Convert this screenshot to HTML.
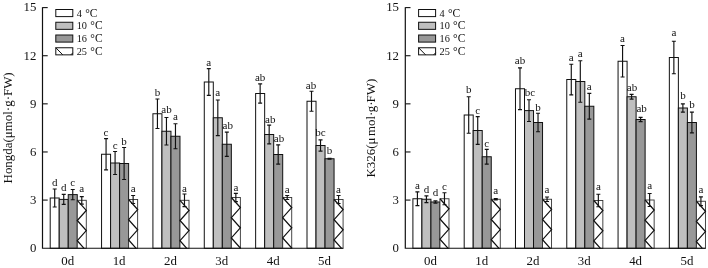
<!DOCTYPE html>
<html><head><meta charset="utf-8"><title>chart</title>
<style>
html,body{margin:0;padding:0;background:#fff;}
svg{display:block;filter:grayscale(1);}
text{font-family:"Liberation Serif",serif;fill:#111;}
</style></head><body>
<svg width="708" height="268" viewBox="0 0 708 268">
<rect width="708" height="268" fill="#fff"/>
<rect x="50.20" y="198.00" width="9.02" height="50.30" fill="#fff" stroke="#111" stroke-width="1"/>
<rect x="59.22" y="199.40" width="9.02" height="48.90" fill="#bfbfbf" stroke="#111" stroke-width="1"/>
<rect x="68.24" y="194.60" width="9.02" height="53.70" fill="#989898" stroke="#111" stroke-width="1"/>
<rect x="77.26" y="200.30" width="9.02" height="48.00" fill="#fff" stroke="#333" stroke-width="0.9"/>
<polyline fill="none" stroke="#111" stroke-width="1.25" points="77.26,200.30 86.28,210.40 77.26,220.50 86.28,230.60 77.26,240.70 84.05,248.30"/>
<rect x="101.56" y="154.25" width="9.02" height="94.05" fill="#fff" stroke="#111" stroke-width="1"/>
<rect x="110.58" y="163.00" width="9.02" height="85.30" fill="#bfbfbf" stroke="#111" stroke-width="1"/>
<rect x="119.60" y="163.50" width="9.02" height="84.80" fill="#989898" stroke="#111" stroke-width="1"/>
<rect x="128.62" y="199.50" width="9.02" height="48.80" fill="#fff" stroke="#333" stroke-width="0.9"/>
<polyline fill="none" stroke="#111" stroke-width="1.25" points="128.62,199.50 137.64,209.60 128.62,219.70 137.64,229.80 128.62,239.90 136.12,248.30"/>
<rect x="152.92" y="113.75" width="9.02" height="134.55" fill="#fff" stroke="#111" stroke-width="1"/>
<rect x="161.94" y="131.25" width="9.02" height="117.05" fill="#bfbfbf" stroke="#111" stroke-width="1"/>
<rect x="170.96" y="136.25" width="9.02" height="112.05" fill="#989898" stroke="#111" stroke-width="1"/>
<rect x="179.98" y="200.30" width="9.02" height="48.00" fill="#fff" stroke="#333" stroke-width="0.9"/>
<polyline fill="none" stroke="#111" stroke-width="1.25" points="179.98,200.30 189.00,210.40 179.98,220.50 189.00,230.60 179.98,240.70 186.77,248.30"/>
<rect x="204.28" y="82.00" width="9.02" height="166.30" fill="#fff" stroke="#111" stroke-width="1"/>
<rect x="213.30" y="117.75" width="9.02" height="130.55" fill="#bfbfbf" stroke="#111" stroke-width="1"/>
<rect x="222.32" y="144.25" width="9.02" height="104.05" fill="#989898" stroke="#111" stroke-width="1"/>
<rect x="231.34" y="197.50" width="9.02" height="50.80" fill="#fff" stroke="#333" stroke-width="0.9"/>
<polyline fill="none" stroke="#111" stroke-width="1.25" points="231.34,197.50 240.36,207.60 231.34,217.70 240.36,227.80 231.34,237.90 240.36,248.00 240.09,248.30"/>
<rect x="255.64" y="93.50" width="9.02" height="154.80" fill="#fff" stroke="#111" stroke-width="1"/>
<rect x="264.66" y="134.50" width="9.02" height="113.80" fill="#bfbfbf" stroke="#111" stroke-width="1"/>
<rect x="273.68" y="154.50" width="9.02" height="93.80" fill="#989898" stroke="#111" stroke-width="1"/>
<rect x="282.70" y="197.50" width="9.02" height="50.80" fill="#fff" stroke="#333" stroke-width="0.9"/>
<polyline fill="none" stroke="#111" stroke-width="1.25" points="282.70,197.50 291.72,207.60 282.70,217.70 291.72,227.80 282.70,237.90 291.72,248.00 291.45,248.30"/>
<rect x="307.00" y="101.25" width="9.02" height="147.05" fill="#fff" stroke="#111" stroke-width="1"/>
<rect x="316.02" y="145.50" width="9.02" height="102.80" fill="#bfbfbf" stroke="#111" stroke-width="1"/>
<rect x="325.04" y="158.75" width="9.02" height="89.55" fill="#989898" stroke="#111" stroke-width="1"/>
<rect x="334.06" y="199.50" width="9.02" height="48.80" fill="#fff" stroke="#333" stroke-width="0.9"/>
<polyline fill="none" stroke="#111" stroke-width="1.25" points="334.06,199.50 343.08,209.60 334.06,219.70 343.08,229.80 334.06,239.90 341.56,248.30"/>
<path d="M54.71 189.00V207.00M52.71 189.00H56.71M52.71 207.00H56.71" stroke="#111" stroke-width="1.15" fill="none"/>
<text x="54.71" y="185.75" text-anchor="middle" font-size="11">d</text>
<path d="M63.73 194.40V204.40M61.73 194.40H65.73M61.73 204.40H65.73" stroke="#111" stroke-width="1.15" fill="none"/>
<text x="63.73" y="191.25" text-anchor="middle" font-size="11">d</text>
<path d="M72.75 189.50V199.70M70.75 189.50H74.75M70.75 199.70H74.75" stroke="#111" stroke-width="1.15" fill="none"/>
<text x="72.75" y="185.75" text-anchor="middle" font-size="11">c</text>
<path d="M81.77 196.55V204.05M79.77 196.55H83.77M79.77 204.05H83.77" stroke="#111" stroke-width="1.15" fill="none"/>
<text x="81.77" y="192.00" text-anchor="middle" font-size="11">a</text>
<path d="M106.07 138.65V169.85M104.07 138.65H108.07M104.07 169.85H108.07" stroke="#111" stroke-width="1.15" fill="none"/>
<text x="106.07" y="136.25" text-anchor="middle" font-size="11">c</text>
<path d="M115.09 151.50V174.50M113.09 151.50H117.09M113.09 174.50H117.09" stroke="#111" stroke-width="1.15" fill="none"/>
<text x="115.09" y="148.75" text-anchor="middle" font-size="11">c</text>
<path d="M124.11 147.50V179.50M122.11 147.50H126.11M122.11 179.50H126.11" stroke="#111" stroke-width="1.15" fill="none"/>
<text x="124.11" y="145.00" text-anchor="middle" font-size="11">b</text>
<path d="M133.13 195.50V203.50M131.13 195.50H135.13M131.13 203.50H135.13" stroke="#111" stroke-width="1.15" fill="none"/>
<text x="133.13" y="192.30" text-anchor="middle" font-size="11">a</text>
<path d="M157.43 99.00V128.50M155.43 99.00H159.43M155.43 128.50H159.43" stroke="#111" stroke-width="1.15" fill="none"/>
<text x="157.43" y="95.50" text-anchor="middle" font-size="11">b</text>
<path d="M166.45 117.50V145.00M164.45 117.50H168.45M164.45 145.00H168.45" stroke="#111" stroke-width="1.15" fill="none"/>
<text x="166.45" y="112.75" text-anchor="middle" font-size="11">ab</text>
<path d="M175.47 123.75V148.75M173.47 123.75H177.47M173.47 148.75H177.47" stroke="#111" stroke-width="1.15" fill="none"/>
<text x="175.47" y="120.00" text-anchor="middle" font-size="11">a</text>
<path d="M184.49 194.00V206.60M182.49 194.00H186.49M182.49 206.60H186.49" stroke="#111" stroke-width="1.15" fill="none"/>
<text x="184.49" y="191.50" text-anchor="middle" font-size="11">a</text>
<path d="M208.79 68.60V95.40M206.79 68.60H210.79M206.79 95.40H210.79" stroke="#111" stroke-width="1.15" fill="none"/>
<text x="208.79" y="65.50" text-anchor="middle" font-size="11">a</text>
<path d="M217.81 99.95V135.55M215.81 99.95H219.81M215.81 135.55H219.81" stroke="#111" stroke-width="1.15" fill="none"/>
<text x="217.81" y="96.25" text-anchor="middle" font-size="11">a</text>
<path d="M226.83 132.15V156.35M224.83 132.15H228.83M224.83 156.35H228.83" stroke="#111" stroke-width="1.15" fill="none"/>
<text x="227.73" y="129.25" text-anchor="middle" font-size="11">ab</text>
<path d="M235.85 193.40V201.60M233.85 193.40H237.85M233.85 201.60H237.85" stroke="#111" stroke-width="1.15" fill="none"/>
<text x="235.85" y="190.50" text-anchor="middle" font-size="11">a</text>
<path d="M260.15 83.90V103.10M258.15 83.90H262.15M258.15 103.10H262.15" stroke="#111" stroke-width="1.15" fill="none"/>
<text x="260.15" y="80.50" text-anchor="middle" font-size="11">ab</text>
<path d="M269.17 125.10V143.90M267.17 125.10H271.17M267.17 143.90H271.17" stroke="#111" stroke-width="1.15" fill="none"/>
<text x="270.27" y="122.75" text-anchor="middle" font-size="11">ab</text>
<path d="M278.19 144.90V164.10M276.19 144.90H280.19M276.19 164.10H280.19" stroke="#111" stroke-width="1.15" fill="none"/>
<text x="278.99" y="141.75" text-anchor="middle" font-size="11">ab</text>
<path d="M287.21 195.50V199.50M285.21 195.50H289.21M285.21 199.50H289.21" stroke="#111" stroke-width="1.15" fill="none"/>
<text x="287.21" y="192.50" text-anchor="middle" font-size="11">a</text>
<path d="M311.51 91.25V111.25M309.51 91.25H313.51M309.51 111.25H313.51" stroke="#111" stroke-width="1.15" fill="none"/>
<text x="311.01" y="88.50" text-anchor="middle" font-size="11">ab</text>
<path d="M320.53 139.90V151.10M318.53 139.90H322.53M318.53 151.10H322.53" stroke="#111" stroke-width="1.15" fill="none"/>
<text x="320.53" y="136.25" text-anchor="middle" font-size="11">bc</text>
<path d="M329.55 158.25V159.25M327.55 158.25H331.55M327.55 159.25H331.55" stroke="#111" stroke-width="1.15" fill="none"/>
<text x="329.55" y="153.75" text-anchor="middle" font-size="11">b</text>
<path d="M338.57 195.50V203.50M336.57 195.50H340.57M336.57 203.50H340.57" stroke="#111" stroke-width="1.15" fill="none"/>
<text x="338.57" y="192.50" text-anchor="middle" font-size="11">a</text>
<path d="M42.5 7.2V248.25H343.2" stroke="#111" stroke-width="1.2" fill="none"/>
<path d="M42.5 7.60H47.7" stroke="#111" stroke-width="1.1"/>
<text x="36.3" y="11.40" text-anchor="end" font-size="12.8">15</text>
<path d="M42.5 55.72H47.7" stroke="#111" stroke-width="1.1"/>
<text x="36.3" y="59.52" text-anchor="end" font-size="12.8">12</text>
<path d="M42.5 103.84H47.7" stroke="#111" stroke-width="1.1"/>
<text x="36.3" y="107.64" text-anchor="end" font-size="12.8">9</text>
<path d="M42.5 151.96H47.7" stroke="#111" stroke-width="1.1"/>
<text x="36.3" y="155.76" text-anchor="end" font-size="12.8">6</text>
<path d="M42.5 200.08H47.7" stroke="#111" stroke-width="1.1"/>
<text x="36.3" y="203.88" text-anchor="end" font-size="12.8">3</text>
<text x="36.3" y="252.00" text-anchor="end" font-size="12.8">0</text>
<text x="67.74" y="265.1" text-anchor="middle" font-size="12.9">0d</text>
<text x="119.10" y="265.1" text-anchor="middle" font-size="12.9">1d</text>
<text x="170.46" y="265.1" text-anchor="middle" font-size="12.9">2d</text>
<text x="221.82" y="265.1" text-anchor="middle" font-size="12.9">3d</text>
<text x="273.18" y="265.1" text-anchor="middle" font-size="12.9">4d</text>
<text x="324.54" y="265.1" text-anchor="middle" font-size="12.9">5d</text>
<rect x="55.80" y="9.50" width="17" height="7.1" fill="#fff" stroke="#111" stroke-width="1"/>
<text x="76.70" y="16.60" font-size="10.3">4<tspan dx="3.3" font-size="11.5">°C</tspan></text>
<rect x="55.80" y="22.25" width="17" height="7.1" fill="#bfbfbf" stroke="#111" stroke-width="1"/>
<text x="76.70" y="29.35" font-size="10.3">10<tspan dx="3.3" font-size="11.5">°C</tspan></text>
<rect x="55.80" y="35.00" width="17" height="7.1" fill="#989898" stroke="#111" stroke-width="1"/>
<text x="76.70" y="42.10" font-size="10.3">16<tspan dx="3.3" font-size="11.5">°C</tspan></text>
<rect x="55.80" y="47.75" width="17" height="7.1" fill="#fff" stroke="#111" stroke-width="1"/>
<path d="M55.80 47.75L62.80 54.85M70.80 54.85L72.80 52.85" stroke="#111" stroke-width="1" fill="none"/>
<text x="76.70" y="54.85" font-size="10.3">25<tspan dx="3.3" font-size="11.5">°C</tspan></text>
<text transform="translate(12.2 127.9) rotate(-90)" text-anchor="middle" font-size="12.95">Hongda(μmol·g·FW)</text>
<rect x="412.90" y="198.75" width="9.02" height="49.55" fill="#fff" stroke="#111" stroke-width="1"/>
<rect x="421.92" y="199.25" width="9.02" height="49.05" fill="#bfbfbf" stroke="#111" stroke-width="1"/>
<rect x="430.94" y="202.00" width="9.02" height="46.30" fill="#989898" stroke="#111" stroke-width="1"/>
<rect x="439.96" y="198.75" width="9.02" height="49.55" fill="#fff" stroke="#333" stroke-width="0.9"/>
<polyline fill="none" stroke="#111" stroke-width="1.25" points="439.96,198.75 448.98,208.85 439.96,218.95 448.98,229.05 439.96,239.15 448.13,248.30"/>
<rect x="464.19" y="115.00" width="9.02" height="133.30" fill="#fff" stroke="#111" stroke-width="1"/>
<rect x="473.21" y="130.50" width="9.02" height="117.80" fill="#bfbfbf" stroke="#111" stroke-width="1"/>
<rect x="482.23" y="156.75" width="9.02" height="91.55" fill="#989898" stroke="#111" stroke-width="1"/>
<rect x="491.25" y="199.25" width="9.02" height="49.05" fill="#fff" stroke="#333" stroke-width="0.9"/>
<polyline fill="none" stroke="#111" stroke-width="1.25" points="491.25,199.25 500.27,209.35 491.25,219.45 500.27,229.55 491.25,239.65 498.98,248.30"/>
<rect x="515.48" y="88.75" width="9.02" height="159.55" fill="#fff" stroke="#111" stroke-width="1"/>
<rect x="524.50" y="110.60" width="9.02" height="137.70" fill="#bfbfbf" stroke="#111" stroke-width="1"/>
<rect x="533.52" y="122.50" width="9.02" height="125.80" fill="#989898" stroke="#111" stroke-width="1"/>
<rect x="542.54" y="199.25" width="9.02" height="49.05" fill="#fff" stroke="#333" stroke-width="0.9"/>
<polyline fill="none" stroke="#111" stroke-width="1.25" points="542.54,199.25 551.56,209.35 542.54,219.45 551.56,229.55 542.54,239.65 550.27,248.30"/>
<rect x="566.77" y="79.50" width="9.02" height="168.80" fill="#fff" stroke="#111" stroke-width="1"/>
<rect x="575.79" y="81.50" width="9.02" height="166.80" fill="#bfbfbf" stroke="#111" stroke-width="1"/>
<rect x="584.81" y="106.25" width="9.02" height="142.05" fill="#989898" stroke="#111" stroke-width="1"/>
<rect x="593.83" y="200.50" width="9.02" height="47.80" fill="#fff" stroke="#333" stroke-width="0.9"/>
<polyline fill="none" stroke="#111" stroke-width="1.25" points="593.83,200.50 602.85,210.60 593.83,220.70 602.85,230.80 593.83,240.90 600.44,248.30"/>
<rect x="618.06" y="61.25" width="9.02" height="187.05" fill="#fff" stroke="#111" stroke-width="1"/>
<rect x="627.08" y="96.75" width="9.02" height="151.55" fill="#bfbfbf" stroke="#111" stroke-width="1"/>
<rect x="636.10" y="119.50" width="9.02" height="128.80" fill="#989898" stroke="#111" stroke-width="1"/>
<rect x="645.12" y="200.00" width="9.02" height="48.30" fill="#fff" stroke="#333" stroke-width="0.9"/>
<polyline fill="none" stroke="#111" stroke-width="1.25" points="645.12,200.00 654.14,210.10 645.12,220.20 654.14,230.30 645.12,240.40 652.18,248.30"/>
<rect x="669.35" y="57.50" width="9.02" height="190.80" fill="#fff" stroke="#111" stroke-width="1"/>
<rect x="678.37" y="108.00" width="9.02" height="140.30" fill="#bfbfbf" stroke="#111" stroke-width="1"/>
<rect x="687.39" y="122.50" width="9.02" height="125.80" fill="#989898" stroke="#111" stroke-width="1"/>
<rect x="696.41" y="201.25" width="9.02" height="47.05" fill="#fff" stroke="#333" stroke-width="0.9"/>
<polyline fill="none" stroke="#111" stroke-width="1.25" points="696.41,201.25 705.43,211.35 696.41,221.45 705.43,231.55 696.41,241.65 702.35,248.30"/>
<path d="M417.41 191.85V205.65M415.41 191.85H419.41M415.41 205.65H419.41" stroke="#111" stroke-width="1.15" fill="none"/>
<text x="417.41" y="188.75" text-anchor="middle" font-size="11">a</text>
<path d="M426.43 195.85V202.65M424.43 195.85H428.43M424.43 202.65H428.43" stroke="#111" stroke-width="1.15" fill="none"/>
<text x="426.43" y="193.00" text-anchor="middle" font-size="11">d</text>
<path d="M435.45 200.90V203.10M433.45 200.90H437.45M433.45 203.10H437.45" stroke="#111" stroke-width="1.15" fill="none"/>
<text x="435.45" y="196.25" text-anchor="middle" font-size="11">d</text>
<path d="M444.47 192.75V204.75M442.47 192.75H446.47M442.47 204.75H446.47" stroke="#111" stroke-width="1.15" fill="none"/>
<text x="444.47" y="190.00" text-anchor="middle" font-size="11">c</text>
<path d="M468.70 96.75V133.25M466.70 96.75H470.70M466.70 133.25H470.70" stroke="#111" stroke-width="1.15" fill="none"/>
<text x="468.70" y="93.25" text-anchor="middle" font-size="11">b</text>
<path d="M477.72 116.60V144.40M475.72 116.60H479.72M475.72 144.40H479.72" stroke="#111" stroke-width="1.15" fill="none"/>
<text x="477.72" y="113.50" text-anchor="middle" font-size="11">c</text>
<path d="M486.74 149.35V164.15M484.74 149.35H488.74M484.74 164.15H488.74" stroke="#111" stroke-width="1.15" fill="none"/>
<text x="486.74" y="146.75" text-anchor="middle" font-size="11">c</text>
<path d="M495.76 198.65V199.85M493.76 198.65H497.76M493.76 199.85H497.76" stroke="#111" stroke-width="1.15" fill="none"/>
<text x="495.76" y="194.25" text-anchor="middle" font-size="11">a</text>
<path d="M519.99 67.85V109.65M517.99 67.85H521.99M517.99 109.65H521.99" stroke="#111" stroke-width="1.15" fill="none"/>
<text x="519.99" y="64.25" text-anchor="middle" font-size="11">ab</text>
<path d="M529.01 99.70V121.50M527.01 99.70H531.01M527.01 121.50H531.01" stroke="#111" stroke-width="1.15" fill="none"/>
<text x="529.86" y="95.75" text-anchor="middle" font-size="11">bc</text>
<path d="M538.03 113.25V131.75M536.03 113.25H540.03M536.03 131.75H540.03" stroke="#111" stroke-width="1.15" fill="none"/>
<text x="538.03" y="110.50" text-anchor="middle" font-size="11">b</text>
<path d="M547.05 197.00V201.50M545.05 197.00H549.05M545.05 201.50H549.05" stroke="#111" stroke-width="1.15" fill="none"/>
<text x="547.05" y="192.75" text-anchor="middle" font-size="11">a</text>
<path d="M571.28 64.20V94.80M569.28 64.20H573.28M569.28 94.80H573.28" stroke="#111" stroke-width="1.15" fill="none"/>
<text x="571.28" y="60.50" text-anchor="middle" font-size="11">a</text>
<path d="M580.30 60.75V102.25M578.30 60.75H582.30M578.30 102.25H582.30" stroke="#111" stroke-width="1.15" fill="none"/>
<text x="580.30" y="56.75" text-anchor="middle" font-size="11">a</text>
<path d="M589.32 93.35V119.15M587.32 93.35H591.32M587.32 119.15H591.32" stroke="#111" stroke-width="1.15" fill="none"/>
<text x="589.32" y="89.50" text-anchor="middle" font-size="11">a</text>
<path d="M598.34 194.25V206.75M596.34 194.25H600.34M596.34 206.75H600.34" stroke="#111" stroke-width="1.15" fill="none"/>
<text x="598.34" y="190.00" text-anchor="middle" font-size="11">a</text>
<path d="M622.57 45.50V77.00M620.57 45.50H624.57M620.57 77.00H624.57" stroke="#111" stroke-width="1.15" fill="none"/>
<text x="622.57" y="41.75" text-anchor="middle" font-size="11">a</text>
<path d="M631.59 94.35V99.15M629.59 94.35H633.59M629.59 99.15H633.59" stroke="#111" stroke-width="1.15" fill="none"/>
<text x="631.99" y="91.25" text-anchor="middle" font-size="11">ab</text>
<path d="M640.61 117.40V121.60M638.61 117.40H642.61M638.61 121.60H642.61" stroke="#111" stroke-width="1.15" fill="none"/>
<text x="641.61" y="111.75" text-anchor="middle" font-size="11">ab</text>
<path d="M649.63 193.50V206.50M647.63 193.50H651.63M647.63 206.50H651.63" stroke="#111" stroke-width="1.15" fill="none"/>
<text x="649.63" y="188.75" text-anchor="middle" font-size="11">a</text>
<path d="M673.86 41.25V73.75M671.86 41.25H675.86M671.86 73.75H675.86" stroke="#111" stroke-width="1.15" fill="none"/>
<text x="673.86" y="36.25" text-anchor="middle" font-size="11">a</text>
<path d="M682.88 103.90V112.10M680.88 103.90H684.88M680.88 112.10H684.88" stroke="#111" stroke-width="1.15" fill="none"/>
<text x="682.88" y="98.75" text-anchor="middle" font-size="11">b</text>
<path d="M691.90 112.10V132.90M689.90 112.10H693.90M689.90 132.90H693.90" stroke="#111" stroke-width="1.15" fill="none"/>
<text x="691.90" y="107.50" text-anchor="middle" font-size="11">b</text>
<path d="M700.92 196.85V205.65M698.92 196.85H702.92M698.92 205.65H702.92" stroke="#111" stroke-width="1.15" fill="none"/>
<text x="700.92" y="193.00" text-anchor="middle" font-size="11">a</text>
<path d="M405.3 7.2V248.25H705.6" stroke="#111" stroke-width="1.2" fill="none"/>
<path d="M405.3 7.60H410.5" stroke="#111" stroke-width="1.1"/>
<text x="399.0" y="11.40" text-anchor="end" font-size="12.8">15</text>
<path d="M405.3 55.72H410.5" stroke="#111" stroke-width="1.1"/>
<text x="399.0" y="59.52" text-anchor="end" font-size="12.8">12</text>
<path d="M405.3 103.84H410.5" stroke="#111" stroke-width="1.1"/>
<text x="399.0" y="107.64" text-anchor="end" font-size="12.8">9</text>
<path d="M405.3 151.96H410.5" stroke="#111" stroke-width="1.1"/>
<text x="399.0" y="155.76" text-anchor="end" font-size="12.8">6</text>
<path d="M405.3 200.08H410.5" stroke="#111" stroke-width="1.1"/>
<text x="399.0" y="203.88" text-anchor="end" font-size="12.8">3</text>
<text x="399.0" y="252.00" text-anchor="end" font-size="12.8">0</text>
<text x="430.44" y="265.1" text-anchor="middle" font-size="12.9">0d</text>
<text x="481.73" y="265.1" text-anchor="middle" font-size="12.9">1d</text>
<text x="533.02" y="265.1" text-anchor="middle" font-size="12.9">2d</text>
<text x="584.31" y="265.1" text-anchor="middle" font-size="12.9">3d</text>
<text x="635.60" y="265.1" text-anchor="middle" font-size="12.9">4d</text>
<text x="686.89" y="265.1" text-anchor="middle" font-size="12.9">5d</text>
<rect x="418.60" y="9.50" width="17" height="7.1" fill="#fff" stroke="#111" stroke-width="1"/>
<text x="439.50" y="16.60" font-size="10.3">4<tspan dx="3.3" font-size="11.5">°C</tspan></text>
<rect x="418.60" y="22.25" width="17" height="7.1" fill="#bfbfbf" stroke="#111" stroke-width="1"/>
<text x="439.50" y="29.35" font-size="10.3">10<tspan dx="3.3" font-size="11.5">°C</tspan></text>
<rect x="418.60" y="35.00" width="17" height="7.1" fill="#989898" stroke="#111" stroke-width="1"/>
<text x="439.50" y="42.10" font-size="10.3">16<tspan dx="3.3" font-size="11.5">°C</tspan></text>
<rect x="418.60" y="47.75" width="17" height="7.1" fill="#fff" stroke="#111" stroke-width="1"/>
<path d="M418.60 47.75L425.60 54.85M433.60 54.85L435.60 52.85" stroke="#111" stroke-width="1" fill="none"/>
<text x="439.50" y="54.85" font-size="10.3">25<tspan dx="3.3" font-size="11.5">°C</tspan></text>
<text transform="translate(375.0 128.15) rotate(-90)" text-anchor="middle" font-size="12.95">K326(μ<tspan dx="1.4">mol·</tspan><tspan dx="-0.6">g·</tspan><tspan dx="-1.0">FW)</tspan></text>
</svg>
</body></html>
